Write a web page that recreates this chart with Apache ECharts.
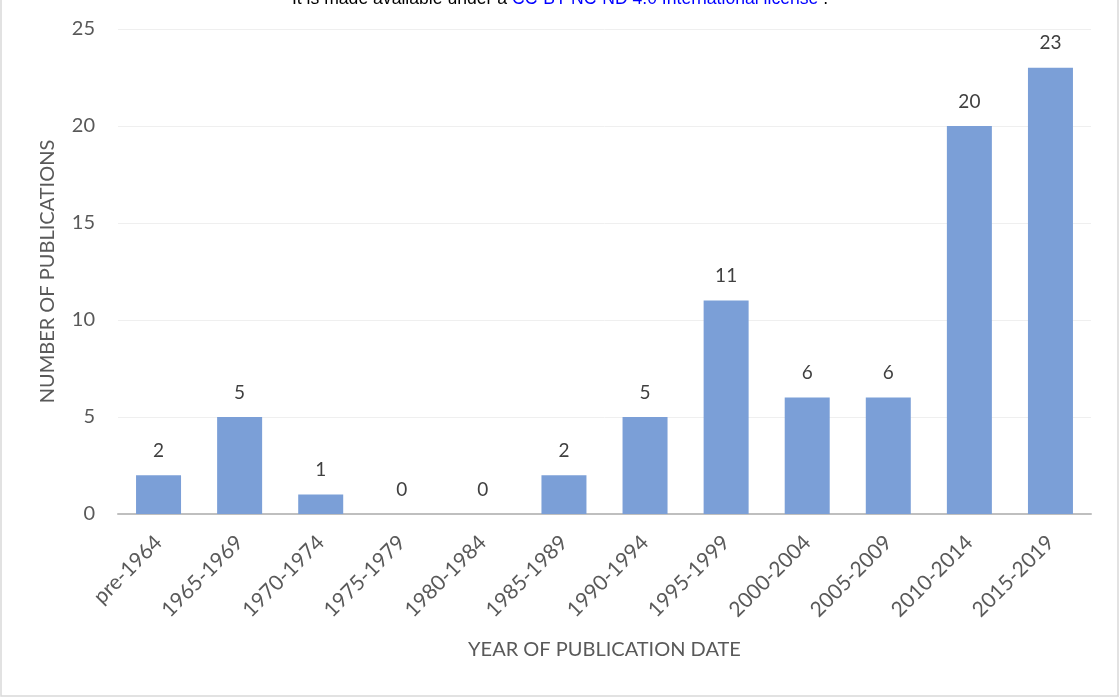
<!DOCTYPE html>
<html><head><meta charset="utf-8">
<script src="https://cdn.jsdelivr.net/npm/echarts@6/dist/echarts.min.js"></script>
<style>html,body{margin:0;padding:0;background:#fff}#c{width:1120px;height:700px}</style>
</head><body><div id="c"></div>
<script>
const categories = ['pre-1964','1965-1969','1970-1974','1975-1979','1980-1984','1985-1989','1990-1994','1995-1999','2000-2004','2005-2009','2010-2014','2015-2019'];
const publications = [2,5,1,0,0,2,5,11,6,6,20,23];
const yTicks = {min:0, max:25, interval:5};
const font = 'Lato, "Open Sans", sans-serif';
const chart = echarts.init(document.getElementById('c'), null, {renderer:'canvas'});
chart.setOption({
  animation:false,
  backgroundColor:'#fff',
  graphic:[
    {type:'rect', shape:{x:1,y:-5,width:1117,height:701}, style:{fill:'none', stroke:'#d9d9d9', lineWidth:1.5}, silent:true},
    {type:'text', left:'center', top:-10, style:{text:'{a|It is made available under a }{b|CC-BY-NC-ND 4.0 International license}{a| .}', rich:{a:{fontFamily:'"Liberation Sans", Arial', fontSize:17.6, fill:'#000'}, b:{fontFamily:'"Liberation Sans", Arial', fontSize:17.6, fill:'#0000ff'}}}}
  ],
  grid:{left:118, right:29, top:29, bottom:186, containLabel:false},
  xAxis:{
    type:'category', data:categories,
    name:'YEAR OF PUBLICATION DATE', nameLocation:'middle', nameGap:126,
    nameTextStyle:{fontFamily:font, fontSize:20, color:'#595959'},
    axisLine:{lineStyle:{color:'#bfbfbf', width:2}},
    axisTick:{show:false},
    axisLabel:{rotate:45, fontFamily:font, fontSize:21, color:'#595959', margin:25, interval:0}
  },
  yAxis:{
    type:'value', min:yTicks.min, max:yTicks.max, interval:yTicks.interval,
    name:'NUMBER OF PUBLICATIONS', nameLocation:'middle', nameGap:60,
    nameTextStyle:{fontFamily:font, fontSize:20, color:'#595959'},
    axisLine:{show:false}, axisTick:{show:false},
    axisLabel:{fontFamily:font, fontSize:20, color:'#595959', margin:23},
    splitLine:{lineStyle:{color:'#efefef', width:1}}
  },
  series:[{
    type:'bar', data:publications, barWidth:'55.5%',
    itemStyle:{color:'#7b9fd7'},
    label:{show:true, position:'top', distance:15, fontFamily:font, fontSize:19, color:'#404040'}
  }]
});
</script></body></html>
